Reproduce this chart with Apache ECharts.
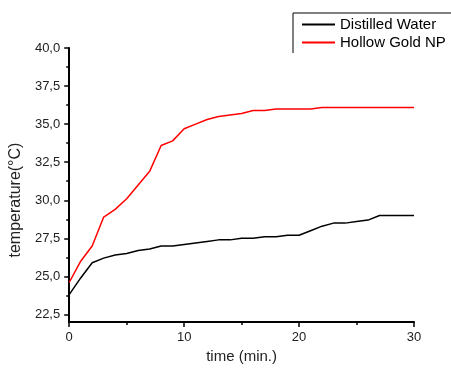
<!DOCTYPE html>
<html>
<head>
<meta charset="utf-8">
<script src="https://cdn.jsdelivr.net/npm/echarts@6/dist/echarts.min.js"></script>
<style>html,body{margin:0;padding:0;background:#fff}#c{width:451px;height:369px}</style>
</head>
<body>
<div id="c"></div>
<script>
const timeMin = [0,1,2,3,4,5,6,7,8,9,10,11,12,13,14,15,16,17,18,19,20,21,22,23,24,25,26,27,28,29,30];
const distilledWater = [23.8,24.9,25.9,26.2,26.4,26.5,26.7,26.8,27.0,27.0,27.1,27.2,27.3,27.4,27.4,27.5,27.5,27.6,27.6,27.7,27.7,28.0,28.3,28.5,28.5,28.6,28.7,29.0,29.0,29.0,29.0];
const hollowGoldNP = [24.6,26.0,27.0,28.9,29.4,30.1,31.0,31.9,33.6,33.9,34.7,35.0,35.3,35.5,35.6,35.7,35.9,35.9,36.0,36.0,36.0,36.0,36.1,36.1,36.1,36.1,36.1,36.1,36.1,36.1,36.1];
const yTicks = [22.5,25.0,27.5,30.0,32.5,35.0,37.5,40.0];
const yMinorTicks = [23.75,26.25,28.75,31.25,33.75,36.25,38.75];
const xTicks = [0,10,20,30];
const xMinorTicks = [5,15,25];

const chart = echarts.init(document.getElementById('c'), null, {renderer:'canvas'});
const font = 'Arial, "Liberation Sans", sans-serif';
const axisCommon = {
  axisLine:{show:true,lineStyle:{color:'#000',width:2}},
  splitLine:{show:false}
};
chart.setOption({
  backgroundColor:'#fff',
  animation:false,
  grid:{left:62,right:37,top:48,bottom:36,containLabel:false},
  legend:{
    orient:'vertical', left:302, top:17, padding:0,
    itemWidth:33, itemHeight:12, itemGap:3,
    icon:'path://M0,5L33,5L33,7L0,7Z',
    textStyle:{fontFamily:font,fontSize:15,color:'#000',padding:[0,0,0,0]},
    data:['Distilled Water','Hollow Gold NP']
  },
  graphic:[{type:'polyline',shape:{points:[[293,53],[293,13],[451,13]]},style:{stroke:'#000',lineWidth:1,fill:null},silent:true}],
  xAxis:[{
    type:'value', min:0, max:30,
    ...axisCommon,
    axisTick:{show:true,inside:false,length:5,customValues:xTicks,lineStyle:{color:'#000',width:1.5}},
    axisLabel:{customValues:xTicks,margin:9,fontFamily:font,fontSize:13,color:'#222'},
    name:'time (min.)', nameLocation:'middle', nameGap:23,
    nameTextStyle:{fontFamily:font,fontSize:15,color:'#222'}
  },{
    type:'value', min:0, max:30, position:'bottom',
    axisLine:{show:false}, splitLine:{show:false},
    axisTick:{show:true,inside:false,length:3,customValues:xMinorTicks,lineStyle:{color:'#000',width:1.5}},
    axisLabel:{show:false}
  }],
  yAxis:[{
    type:'value', min:22, max:40,
    ...axisCommon,
    axisTick:{show:true,inside:false,length:5,customValues:yTicks,lineStyle:{color:'#000',width:1.5}},
    axisLabel:{customValues:yTicks,margin:9,fontFamily:font,fontSize:13,color:'#222',
      formatter:v=>v.toFixed(1).replace('.',',')},
    name:'temperature(°C)', nameLocation:'middle', nameGap:39, nameRotate:90,
    nameTextStyle:{fontFamily:font,fontSize:16,color:'#222',padding:[0,30,0,0]}
  },{
    type:'value', min:22, max:40, position:'left',
    axisLine:{show:false}, splitLine:{show:false},
    axisTick:{show:true,inside:false,length:3,customValues:yMinorTicks,lineStyle:{color:'#000',width:1.5}},
    axisLabel:{show:false}
  }],
  series:[{
    name:'Distilled Water', type:'line', symbol:'none', xAxisIndex:0, yAxisIndex:0,
    lineStyle:{color:'#000',width:1.5}, itemStyle:{color:'#000'},
    data:timeMin.map((t,i)=>[t,distilledWater[i]])
  },{
    name:'Hollow Gold NP', type:'line', symbol:'none', xAxisIndex:0, yAxisIndex:0,
    lineStyle:{color:'#ff0000',width:1.5}, itemStyle:{color:'#ff0000'},
    data:timeMin.map((t,i)=>[t,hollowGoldNP[i]])
  }]
});
</script>
</body>
</html>
